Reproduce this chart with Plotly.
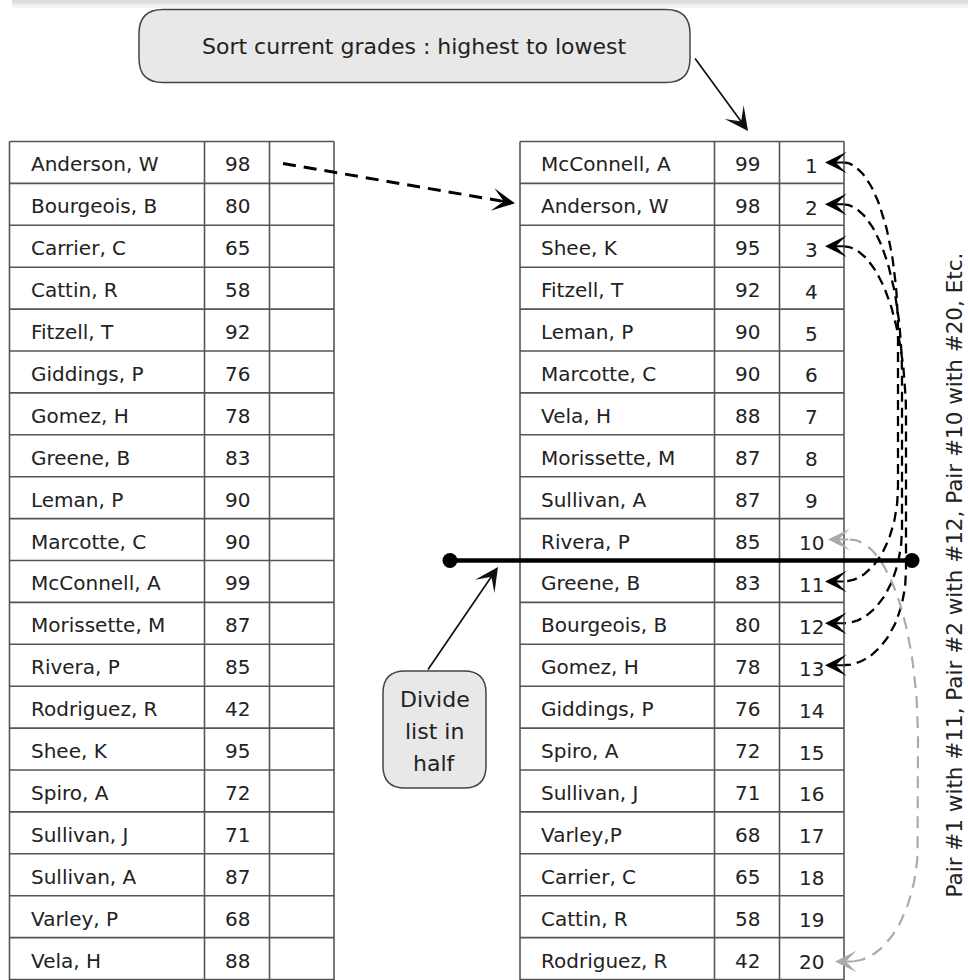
import numpy as np
import plotly.graph_objects as go

# ---------------- data ----------------
left_names = ["Anderson, W", "Bourgeois, B", "Carrier, C", "Cattin, R", "Fitzell, T",
              "Giddings, P", "Gomez, H", "Greene, B", "Leman, P", "Marcotte, C",
              "McConnell, A", "Morissette, M", "Rivera, P", "Rodriguez, R", "Shee, K",
              "Spiro, A", "Sullivan, J", "Sullivan, A", "Varley, P", "Vela, H"]
left_grades = [98, 80, 65, 58, 92, 76, 78, 83, 90, 90, 99, 87, 85, 42, 95, 72, 71, 87, 68, 88]

right_names = ["McConnell, A", "Anderson, W", "Shee, K", "Fitzell, T", "Leman, P",
               "Marcotte, C", "Vela, H", "Morissette, M", "Sullivan, A", "Rivera, P",
               "Greene, B", "Bourgeois, B", "Gomez, H", "Giddings, P", "Spiro, A",
               "Sullivan, J", "Varley,P", "Carrier, C", "Cattin, R", "Rodriguez, R"]
right_grades = [99, 98, 95, 92, 90, 90, 88, 87, 87, 85, 83, 80, 78, 76, 72, 71, 68, 65, 58, 42]
ranks = [1, 2, 3, 4, 5, 6, 7, 8, 9, 10, 11, 12, 13, 14, 15, 16, 17, 18, 19, 20]

pairs_black = [(1, 11), (2, 12), (3, 13)]
pair_gray = (10, 20)

title_text = "Sort current grades : highest to lowest"
divide_text = ["Divide", "list in", "half"]
side_text = "Pair #1 with #11, Pair #2 with #12, Pair #10 with #20, Etc."

# ---------------- geometry ----------------
W, H = 968, 980
TOP = 141.5
ROW_H = 41.9
LEFT_COLS = [9.5, 204.5, 269.5, 334]
RIGHT_COLS = [520, 714.5, 779.5, 844]
FONT = "DejaVu Sans"
TXT = "#222222"
GRID = "#555555"


def yc(i):
    """centre of row i (1-based)"""
    return TOP + (i - 0.5) * ROW_H


def yline(k):
    return TOP + k * ROW_H


nrows = len(left_names)
shapes = []
annotations = []

# top faded strip
for (a, b, c) in [(0, 3, "#dedede"), (3, 5, "#e9e9e9"), (5, 8, "#f4f4f4")]:
    shapes.append(dict(type="rect", x0=12, x1=W, y0=a, y1=b, line=dict(width=0), fillcolor=c, layer="below"))


def table(cols, names, grades, extra=None):
    for k in range(nrows + 1):
        shapes.append(dict(type="line", x0=cols[0], x1=cols[-1], y0=yline(k), y1=yline(k),
                           line=dict(color=GRID, width=1.6)))
    for c in cols:
        shapes.append(dict(type="line", x0=c, x1=c, y0=yline(0), y1=yline(nrows) + 2,
                           line=dict(color=GRID, width=1.6)))
    for i in range(nrows):
        annotations.append(dict(x=cols[0] + 19, y=yc(i + 1) + 2, text=names[i], showarrow=False,
                                xanchor="left", yanchor="middle", font=dict(family=FONT, size=20, color=TXT)))
        annotations.append(dict(x=(cols[1] + cols[2]) / 2, y=yc(i + 1) + 2, text=str(grades[i]),
                                showarrow=False, xanchor="center", yanchor="middle",
                                font=dict(family=FONT, size=20, color=TXT)))
        if extra is not None:
            annotations.append(dict(x=(cols[2] + cols[3]) / 2, y=yc(i + 1) + 3.5, text=str(extra[i]),
                                    showarrow=False, xanchor="center", yanchor="middle",
                                    font=dict(family=FONT, size=20, color=TXT)))


table(LEFT_COLS, left_names, left_grades)
table(RIGHT_COLS, right_names, right_grades, ranks)


def rounded_rect(x0, y0, x1, y1, r):
    return (f"M{x0 + r},{y0} L{x1 - r},{y0} Q{x1},{y0} {x1},{y0 + r} "
            f"L{x1},{y1 - r} Q{x1},{y1} {x1 - r},{y1} L{x0 + r},{y1} "
            f"Q{x0},{y1} {x0},{y1 - r} L{x0},{y0 + r} Q{x0},{y0} {x0 + r},{y0} Z")


# top callout
shapes.append(dict(type="path", path=rounded_rect(139, 9.5, 690, 82.5, 24),
                   fillcolor="#e8e8e8", line=dict(color="#444444", width=1.5)))
annotations.append(dict(x=414.5, y=46, text=title_text, showarrow=False, xanchor="center",
                        yanchor="middle", font=dict(family=FONT, size=22, color=TXT)))
annotations.append(dict(x=748, y=131, ax=694, ay=57, axref="x", ayref="y", text="", showarrow=True,
                        arrowhead=3, arrowsize=2.3, arrowwidth=1.7, arrowcolor="#111111", standoff=0))

# divide callout
shapes.append(dict(type="path", path=rounded_rect(383, 671, 486, 788, 22),
                   fillcolor="#e8e8e8", line=dict(color="#444444", width=1.5)))
for j, t in enumerate(divide_text):
    annotations.append(dict(x=434.5, y=699 + 32 * j, text=t, showarrow=False, xanchor="center",
                            yanchor="middle", font=dict(family=FONT, size=22, color=TXT)))
annotations.append(dict(x=498, y=567, ax=427, ay=671, axref="x", ayref="y", text="", showarrow=True,
                        arrowhead=3, arrowsize=2.3, arrowwidth=1.7, arrowcolor="#111111", standoff=0))

# divider line with dots
ydiv = yline(10)
shapes.append(dict(type="line", x0=450, x1=912, y0=ydiv, y1=ydiv, line=dict(color="#000000", width=4.5)))

# dashed arrow left -> right table
ys, ye = yc(1) + 1, yc(2) - 1
xs, xe = 283, 515
d = np.array([xe - xs, ye - ys], dtype=float)
u = d / np.hypot(*d)
shapes.append(dict(type="line", x0=xs, y0=ys, x1=xe - 14 * u[0], y1=ye - 14 * u[1],
                   line=dict(color="#000000", width=3, dash="13px,8px")))
annotations.append(dict(x=xe, y=ye, ax=xe - 16 * u[0], ay=ye - 16 * u[1], axref="x", ayref="y", text="",
                        showarrow=True, arrowhead=3, arrowsize=1.9, arrowwidth=2, arrowcolor="#000000",
                        standoff=0))


def pair_curve(ya, yb, x0, xm, r1, r2, n=40):
    th = np.linspace(0, np.pi / 2, n)
    xt = x0 + (xm - x0) * np.sin(th)
    yt = ya + r1 * (1 - np.cos(th))
    thb = th[::-1]
    xb = x0 + (xm - x0) * np.sin(thb)
    ybb = yb - r2 * (1 - np.cos(thb))
    return np.concatenate([xt, xb]), np.concatenate([yt, ybb])


fig = go.Figure()

# black pairing curves
for k, (a, b) in enumerate(pairs_black):
    cx, cy = pair_curve(yc(a), yc(b), 843, 898 + 4 * k, 170, 95)
    fig.add_trace(go.Scatter(x=cx, y=cy, mode="lines", hoverinfo="skip",
                             line=dict(color="#000000", width=2.3, dash="10px,6px")))
    for r in (a, b):
        annotations.append(dict(x=825, y=yc(r), ax=845, ay=yc(r), axref="x", ayref="y", text="",
                                showarrow=True, arrowhead=3, arrowsize=1.8, arrowwidth=2,
                                arrowcolor="#000000", standoff=0))

# gray pairing curve
ga, gb = pair_gray
cx, cy = pair_curve(yc(ga), yc(gb) + 3, 850, 918, 200, 120)
fig.add_trace(go.Scatter(x=cx, y=cy, mode="lines", hoverinfo="skip",
                         line=dict(color="#aaaaaa", width=2.2, dash="12px,8px")))
annotations.append(dict(x=828, y=yc(ga), ax=850, ay=yc(ga), axref="x", ayref="y", text="",
                        showarrow=True, arrowhead=3, arrowsize=1.8, arrowwidth=2,
                        arrowcolor="#aaaaaa", standoff=0))
annotations.append(dict(x=835, y=yc(gb) + 3, ax=855, ay=yc(gb) + 3, axref="x", ayref="y", text="",
                        showarrow=True, arrowhead=3, arrowsize=1.8, arrowwidth=2,
                        arrowcolor="#aaaaaa", standoff=0))

# divider end dots
fig.add_trace(go.Scatter(x=[450, 912], y=[ydiv, ydiv], mode="markers", hoverinfo="skip",
                         marker=dict(color="#000000", size=15)))

# vertical side text
annotations.append(dict(x=954, y=900, text=side_text, textangle=-90, showarrow=False,
                        xanchor="center", yanchor="bottom", font=dict(family=FONT, size=21.5, color=TXT)))

fig.update_layout(
    width=W, height=H, margin=dict(l=0, r=0, t=0, b=0),
    paper_bgcolor="white", plot_bgcolor="white", showlegend=False,
    xaxis=dict(range=[0, W], visible=False, fixedrange=True),
    yaxis=dict(range=[H, 0], visible=False, fixedrange=True),
    shapes=shapes, annotations=annotations,
)

fig.write_html("out.html", config={"displayModeBar": False},
               post_script="document.body.style.margin='0';document.body.style.overflow='hidden';")
